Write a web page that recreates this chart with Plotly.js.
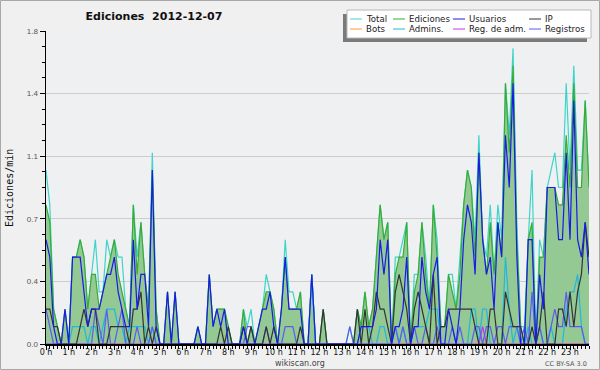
<!DOCTYPE html>
<html><head><meta charset="utf-8">
<script src="https://cdn.plot.ly/plotly-3.0.1.min.js"></script>
<style>html,body{margin:0;padding:0;background:#f0f0f0;} #chart{width:600px;height:370px;}</style>
</head><body><div id="chart"></div>
<script>
// ---- data (edits per minute, one value per 10 minutes, 2012-12-07) ----
const hourTicks = [0,60,120,180,240,300,360,420,480,540,600,660,720,780,840,900,960,1020,1080,1140,1200,1260,1320,1380];
const hourLabels = ['0 h','1 h','2 h','3 h','4 h','5 h','6 h','7 h','8 h','9 h','10 h','11 h','12 h','13 h','14 h','15 h','16 h','17 h','18 h','19 h','20 h','21 h','22 h','23 h'];
const yTickVals = [0, 0.36, 0.72, 1.08, 1.44, 1.8];
const yTickText = ['0.0','0.4','0.7','1.1','1.4','1.8'];

const total = [1.0,0.8,0.2,0.1,0,0.2,0,0.5,0.5,0.6,
 0.5,0.2,0.4,0.6,0.3,0.3,0.6,0.5,0.6,0.5,
 0.5,0.2,0.1,0.8,0.5,0.7,0.4,0.2,1.1,0.2,
 0,0,0.3,0,0.3,0,0,0,0,0,
 0.1,0,0,0.4,0.1,0.2,0.2,0.2,0.1,0,
 0,0,0.2,0.1,0.2,0,0.1,0.2,0.4,0.3,
 0.2,0,0.2,0.6,0.3,0.3,0.2,0.3,0,0,
 0.4,0,0,0.2,0,0,0,0,0,0,
 0.1,0,0.2,0.1,0.3,0.1,0.2,0.5,0.8,0.6,
 0.7,0,0.5,0.5,0.6,0.7,0,0.4,0.4,0.7,
 0.5,0.2,0.8,0.6,0.1,0.1,0.4,0.4,0.2,0.5,
 0.8,1.0,0.9,0.6,1.2,0.6,0.5,0.8,0.4,0.8,
 0.6,1.5,1.2,1.7,0.7,0.1,0.1,0.6,1.0,0,
 0.6,0.5,0.9,1.0,1.1,0.9,0.9,1.5,1.0,1.6,
 1.0,1.0,1.4,0.9];
const ediciones = [0.8,0.7,0.2,0.1,0,0.2,0,0.5,0.5,0.6,
 0.5,0.2,0.4,0.4,0.2,0.3,0.4,0.5,0.6,0.4,
 0.3,0.2,0.1,0.8,0.4,0.7,0.4,0.2,1.0,0.2,
 0,0,0.3,0,0.3,0,0,0,0,0,
 0.1,0,0,0.4,0.1,0.2,0.2,0.2,0.1,0,
 0,0,0.2,0,0.1,0,0.1,0.2,0.3,0.3,
 0.2,0,0.2,0.5,0.2,0.2,0.2,0.3,0,0,
 0.4,0,0,0.2,0,0,0,0,0,0,
 0,0,0.2,0.1,0.3,0.1,0.2,0.5,0.8,0.6,
 0.7,0,0.4,0.5,0.5,0.7,0,0.3,0.4,0.7,
 0.4,0.2,0.8,0.5,0.1,0.1,0.4,0.3,0.2,0.4,
 0.8,1.0,0.9,0.5,1.1,0.6,0.4,0.7,0.4,0.7,
 0.5,1.5,1.1,1.6,0.6,0.1,0,0.6,0.7,0,
 0.5,0.5,0.9,0.9,0.9,0.8,0.8,1.2,0.9,1.5,
 0.9,0.9,1.4,0.9];
const usuarios = [0.6,0.5,0.1,0,0,0.2,0,0.5,0.5,0.5,
 0.3,0.1,0.2,0.2,0.2,0.3,0.4,0.4,0.5,0.3,
 0.2,0.1,0.1,0.6,0.2,0.4,0.4,0.1,1.0,0.1,
 0,0,0.3,0,0.3,0,0,0,0,0,
 0.1,0,0,0.4,0.1,0.2,0.1,0.2,0,0,
 0,0,0.1,0,0,0,0.1,0.2,0.2,0.3,
 0.1,0,0.2,0.5,0.2,0.2,0.2,0.2,0,0,
 0.4,0,0,0,0,0,0,0,0,0,
 0,0,0,0.1,0.1,0.1,0.1,0.2,0.6,0.4,
 0.6,0,0.1,0.1,0.2,0.5,0,0.1,0.1,0.5,
 0.3,0.2,0.4,0.5,0,0,0.2,0.1,0,0.2,
 0.6,0.8,0.7,0.4,1.1,0.6,0.4,0.5,0.2,0.7,
 0.5,1.2,0.9,1.5,0.5,0,0,0.6,0.6,0,
 0.4,0.2,0.9,0.9,0.9,0.6,0.6,1.1,0.6,1.4,
 0.6,0.5,0.7,0.4];
const ip = [0.2,0.2,0.1,0.1,0,0,0,0,0,0.1,
 0.2,0.1,0.2,0.2,0,0,0,0.1,0.1,0.1,
 0.1,0.1,0,0.2,0.2,0.3,0,0.1,0,0.1,
 0,0,0,0,0,0,0,0,0,0,
 0,0,0,0,0,0,0.1,0,0.1,0,
 0,0,0.1,0,0.1,0,0,0,0.1,0,
 0.1,0,0,0,0,0,0,0.1,0,0,
 0,0,0,0.2,0,0,0,0,0,0,
 0,0,0.2,0,0.2,0,0.1,0.3,0.2,0.2,
 0.1,0,0.3,0.4,0.3,0.2,0,0.2,0.3,0.2,
 0.1,0,0.4,0,0.1,0.1,0.2,0.2,0.2,0.2,
 0.2,0.2,0.2,0.1,0,0,0,0.2,0.2,0,
 0,0.3,0.2,0.1,0.1,0.1,0,0,0.1,0,
 0.1,0.3,0,0,0,0.2,0.2,0.1,0.3,0.1,
 0.3,0.4,0.7,0.5];
const bots = [0,0,0,0,0,0,0,0,0,0, 0,0,0,0,0,0,0,0,0,0, 0,0,0,0,0,0,0,0,0,0,
 0,0,0,0,0,0,0,0,0,0, 0,0,0,0,0,0,0,0,0,0, 0,0,0,0,0,0,0,0,0,0,
 0,0,0,0,0,0,0,0,0,0, 0,0,0,0,0,0,0,0,0,0, 0,0,0,0,0,0,0,0,0,0,
 0,0,0,0,0,0,0,0,0,0, 0,0,0,0,0,0,0,0,0,0, 0,0,0,0,0,0,0,0,0,0,
 0,0,0,0,0,0,0,0,0,0, 0,0,0,0,0,0,0,0,0,0, 0,0,0,0];
const admins = [0,0,0,0,0,0,0,0.1,0.1,0.1,
 0.1,0,0.1,0.1,0,0.1,0.2,0.2,0.2,0.1,
 0.1,0,0.1,0.1,0.1,0.1,0.1,0,0.1,0,
 0,0,0,0,0,0,0,0,0,0,
 0,0,0,0,0,0,0,0,0,0,
 0,0,0,0,0,0,0,0,0,0,
 0,0,0,0,0,0,0,0,0,0,
 0.4,0,0,0,0,0,0,0,0,0,
 0,0,0,0.1,0.1,0.1,0,0,0.1,0.1,
 0,0,0.1,0,0.1,0,0,0.1,0.1,0.1,
 0.1,0.2,0.2,0.2,0,0,0,0,0,0,
 0,0,0.2,0.2,0,0.2,0.2,0,0,0,
 0,0.5,0.2,0,0.1,0,0,0.1,0,0,
 0.1,0,0,0.1,0,0,0,0.2,0.3,0.3,
 0.4,0.1,0,0];
const regAdm = [0,0,0,0,0,0,0,0,0,0, 0,0,0,0,0,0,0,0,0,0, 0,0,0,0,0,0,0,0,0,0,
 0,0,0,0,0,0,0,0,0,0, 0,0,0,0,0,0,0,0,0,0, 0,0,0,0,0,0,0,0,0,0,
 0,0,0,0,0,0,0,0,0,0, 0,0,0,0,0,0,0,0,0,0, 0,0,0,0,0,0,0,0,0,0,
 0,0,0,0,0,0,0,0,0,0, 0,0,0,0,0,0,0,0,0,0, 0,0,0,0,0,0.1,0,0,0,0,
 0,0,0,0,0,0,0,0,0,0, 0,0,0,0,0,0,0,0,0,0, 0,0,0,0];
const registros = [0.2,0.1,0,0,0,0,0,0,0,0,
 0,0,0,0.2,0.1,0,0.2,0,0,0.1,
 0.2,0,0,0,0.1,0,0,0,0.1,0,
 0,0,0,0,0,0,0,0,0,0,
 0,0,0,0,0,0,0,0,0,0,
 0,0,0,0.1,0.1,0,0,0,0.1,0,
 0,0,0,0.1,0.1,0.1,0,0,0,0,
 0,0,0,0,0,0,0,0,0,0,
 0.1,0,0,0,0,0,0,0,0,0,
 0,0,0.1,0,0.1,0,0,0.1,0,0,
 0.1,0,0,0.1,0,0,0,0.1,0,0.1,
 0,0,0,0.1,0.1,0,0.1,0.1,0,0.1,
 0.1,0,0.1,0.1,0.1,0,0.1,0,0.3,0,
 0.1,0,0,0.1,0.2,0.1,0.1,0.3,0.1,0.1,
 0.1,0.1,0,0];

// minutes since midnight for each 10-minute sample
const minutes = total.map((_, i) => i * 10);

// ---- styles ----
const C = {
  total: '#3fd4c8', ediciones: '#36ac36', fill: '#94c994', usuarios: '#1a1ae8',
  ip: '#333333', bots: '#ff9a2a', admins: '#20b8dc', regAdm: '#cc33e0', registros: '#5c5cf0'
};
const series = [
  {name:'Total', y: total, color: C.total},
  {name:'Ediciones', y: ediciones, color: C.ediciones, fill: true},
  {name:'Bots', y: bots, color: C.bots},
  {name:'Admins.', y: admins, color: C.admins},
  {name:'Reg. de adm.', y: regAdm, color: C.regAdm},
  {name:'Registros', y: registros, color: C.registros},
  {name:'IP', y: ip, color: C.ip},
  {name:'Usuarios', y: usuarios, color: C.usuarios}
];
const traces = series.map(s => {
  const t = {x: minutes, y: s.y, type:'scatter', mode:'lines', name: s.name,
    line:{color: s.color, width: 1.2}, showlegend:false, hoverinfo:'skip'};
  if (s.fill) { t.fill = 'tozeroy'; t.fillcolor = C.fill; }
  return t;
});

// pixel -> paper helpers (plot area: x 46..589, y 31..344)
const PX = x => (x - 46) / 543;
const PY = y => (344 - y) / 313;

const shapes = [
  {type:'rect', xref:'paper', yref:'paper', x0:PX(0.5), x1:PX(599.5), y0:PY(0.5), y1:PY(369.5), line:{color:'#a8a8a8', width:1}, layer:'below'},
  {type:'rect', xref:'paper', yref:'paper', x0:PX(343), x1:PX(587), y0:PY(14), y1:PY(42), fillcolor:'#7a7a7a', line:{width:0}},
  {type:'rect', xref:'paper', yref:'paper', x0:PX(347), x1:PX(591), y0:PY(10), y1:PY(38), fillcolor:'#ffffff', line:{color:'#b8b8b8', width:1}}
];
const annotations = [];
const legendEntries = [
  ['Total', C.total, 350, 19], ['Ediciones', C.ediciones, 393, 19], ['Usuarios', C.usuarios, 453, 19], ['IP', C.ip, 529, 19],
  ['Bots', C.bots, 350, 29], ['Admins.', C.admins, 393, 29], ['Reg. de adm.', C.regAdm, 453, 29], ['Registros', C.registros, 529, 29]
];
legendEntries.forEach(([label, color, x, y]) => {
  shapes.push({type:'line', xref:'paper', yref:'paper', x0:PX(x), x1:PX(x+12), y0:PY(y), y1:PY(y), line:{color: color, width:1}});
  annotations.push({xref:'paper', yref:'paper', x:PX(x+14), y:PY(y), xanchor:'left', yanchor:'middle', showarrow:false,
    text: label, font:{family:'DejaVu Sans', size:8.6, color:'#222'}});
});
annotations.push(
  {xref:'paper', yref:'paper', x:PX(9), y:PY(188), textangle:-90, xanchor:'center', yanchor:'middle', showarrow:false,
   text:'Ediciones/min', font:{family:'DejaVu Sans Mono', size:10, color:'#111'}},
  {xref:'paper', yref:'paper', x:PX(300), y:PY(363), xanchor:'center', yanchor:'middle', showarrow:false,
   text:'wikiscan.org', font:{family:'DejaVu Sans', size:8, color:'#444'}},
  {xref:'paper', yref:'paper', x:PX(589), y:PY(363.5), xanchor:'right', yanchor:'middle', showarrow:false,
   text:'CC BY-SA 3.0', font:{family:'DejaVu Sans', size:6.5, color:'#555'}}
);

const layout = {
  width:600, height:370,
  margin:{l:46, r:11, t:31, b:26, pad:0},
  paper_bgcolor:'#f0f0f0', plot_bgcolor:'#eef0f2',
  title:{text:'Ediciones\u00a0 2012-12-07', x:154/600, xanchor:'center', xref:'container', y:1-16.5/370, yanchor:'middle',
    font:{family:'DejaVu Sans', size:11, color:'#111', weight:'bold'}},
  xaxis:{range:[0,1430], showline:true, linecolor:'#000', linewidth:1.5, ticks:'outside', ticklen:4, tickcolor:'#000', tickwidth:1,
    tickmode:'array', tickvals:hourTicks, ticktext:hourLabels, tickfont:{family:'DejaVu Sans', size:8, color:'#111'},
    ticklabelstandoff:-4,
    showgrid:false, zeroline:false, fixedrange:true,
    minor:{tickmode:'linear', tick0:0, dtick:10, ticklen:3, tickcolor:'#000', tickwidth:1, showgrid:false}},
  yaxis:{range:[0,1.8], showline:true, linecolor:'#000', linewidth:1.5, ticks:'outside', ticklen:5, tickcolor:'#000', tickwidth:1,
    tickmode:'array', tickvals:yTickVals, ticktext:yTickText, tickfont:{family:'Liberation Sans', size:8, color:'#555'},
    showgrid:true, gridcolor:'#cdcdcd', gridwidth:1, zeroline:false, fixedrange:true,
    minor:{tickmode:'linear', tick0:0, dtick:0.09, ticklen:3, tickcolor:'#000', tickwidth:1, showgrid:false}},
  shapes: shapes, annotations: annotations, showlegend:false
};
Plotly.newPlot('chart', traces, layout, {staticPlot:true, displayModeBar:false});
</script></body></html>
